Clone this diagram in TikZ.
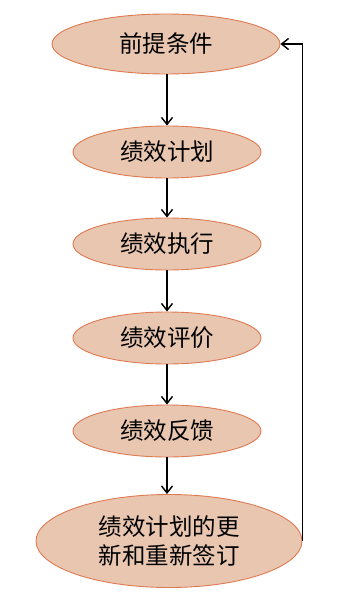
\documentclass[tikz,border=0pt]{standalone}
\usepackage{fontspec}
\usepackage{xcolor}
\usepackage{tikz}
\usetikzlibrary{shapes.geometric, arrows.meta, positioning}
\setmainfont{Noto Sans CJK SC}
\definecolor{stepfill}{HTML}{E9C6B0}
\definecolor{stepdraw}{HTML}{DE7A52}
\tikzset{
  phase/.style={ellipse, draw=stepdraw, fill=stepfill, line width=0.9pt, align=center, font=\fontsize{23.5}{28.5}\selectfont, inner sep=0pt, minimum width=188pt, minimum height=52pt},
  arr/.style={->, >={Straight Barb[length=7pt, width=11pt]}, line width=1.4pt, draw=black},
}
\begin{document}
\begin{tikzpicture}[x=1pt, y=-1pt]
  \useasboundingbox (0,0) rectangle (362,605);

  \node[phase, minimum width=228pt, minimum height=60pt] (pre) at (166,44) {前提条件};
  \node[phase] (plan) at (167,152) {绩效计划};
  \node[phase] (exec) at (167,244) {绩效执行};
  \node[phase] (eval) at (167,338) {绩效评价};
  \node[phase] (fb) at (167,431) {绩效反馈};
  \node[phase, minimum width=266pt, minimum height=93pt] (upd) at (169,541) {绩效计划的更\\新和重新签订};

  \draw[arr] (pre.south -| plan) -- (plan.north);
  \draw[arr] (plan) -- (exec);
  \draw[arr] (exec) -- (eval);
  \draw[arr] (eval) -- (fb);
  \draw[arr] (fb.south) -- (fb.south |- upd.north);
  % loop back
  \draw[arr] (upd.east) |- (pre.east);
\end{tikzpicture}
\end{document}
